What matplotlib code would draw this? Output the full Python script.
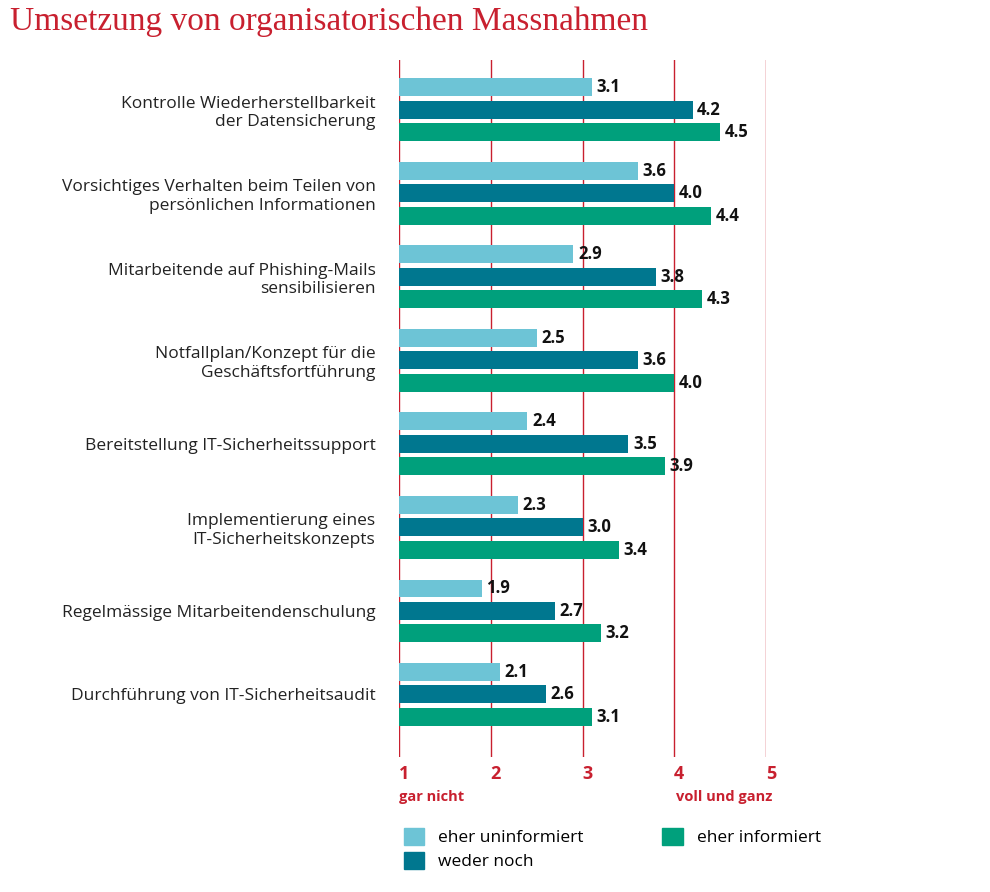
import matplotlib.pyplot as plt
import numpy as np
from matplotlib.patches import Patch

categories = [
    "Kontrolle Wiederherstellbarkeit\nder Datensicherung",
    "Vorsichtiges Verhalten beim Teilen von\npersönlichen Informationen",
    "Mitarbeitende auf Phishing-Mails\nsensibilisieren",
    "Notfallplan/Konzept für die\nGeschäftsfortführung",
    "Bereitstellung IT-Sicherheitssupport",
    "Implementierung eines\nIT-Sicherheitskonzepts",
    "Regelmässige Mitarbeitendenschulung",
    "Durchführung von IT-Sicherheitsaudit",
]
uninformiert = [3.1, 3.6, 2.9, 2.5, 2.4, 2.3, 1.9, 2.1]
weder_noch = [4.2, 4.0, 3.8, 3.6, 3.5, 3.0, 2.7, 2.6]
informiert = [4.5, 4.4, 4.3, 4.0, 3.9, 3.4, 3.2, 3.1]
series_names = ["eher uninformiert", "weder noch", "eher informiert"]
colors = ["#6dc4d6", "#00778f", "#00a07c"]
RED = "#c8202f"

plt.rcParams["font.family"] = ["Open Sans", "DejaVu Sans"]
fig = plt.figure(figsize=(9.9, 8.92), dpi=100)
ax = fig.add_axes([399 / 990, 1 - 757 / 892, (766 - 399) / 990, 697 / 892])

y = np.arange(len(categories))
off = 0.268
h = 0.214
for k, vals in enumerate([uninformiert, weder_noch, informiert]):
    yy = y + (k - 1) * off
    ax.barh(yy, np.array(vals) - 1, left=1, height=h, color=colors[k], zorder=2)
    for yi, v in zip(yy, vals):
        ax.text(v + 0.05, yi, f"{v:.1f}", va="center", ha="left",
                fontsize=12, fontweight="bold", color="#111111", zorder=3)

for xv in range(1, 6):
    ax.axvline(xv, color=RED, lw=1, zorder=1)

ax.set_xlim(1, 5)
ax.set_ylim(7.75, -0.595)
ax.set_yticks(y)
ax.set_yticklabels(categories, fontsize=12.5, color="#222222", ha="right")
ax.tick_params(axis="y", length=0, pad=17)
ax.set_xticks(range(1, 6))
ax.set_xticklabels([str(i) for i in range(1, 6)], fontsize=13, fontweight="bold", color=RED)
ax.tick_params(axis="x", length=0, pad=6)
for lab in ax.get_xticklabels():
    lab.set_ha("left")
ax.spines[["top", "left", "right", "bottom"]].set_visible(False)

fig.text(399 / 990, 1 - 797 / 892, "gar nicht", fontsize=10.5, fontweight="bold", color=RED, va="center")
fig.text(676 / 990, 1 - 797 / 892, "voll und ganz", fontsize=10.5, fontweight="bold", color=RED, va="center")

fig.text(10 / 990, 1 - 22 / 892, "Umsetzung von organisatorischen Massnahmen",
         fontsize=24, color=RED, va="center", family=["Liberation Serif", "DejaVu Serif"])

handles = [Patch(color=c) for c in colors]
fig.legend([handles[0], handles[1], handles[2]], series_names, ncol=2,
           loc="upper left", bbox_to_anchor=(388 / 990, 1 - 812 / 892),
           frameon=False, fontsize=12.5, handlelength=1.2, handleheight=1.2,
           columnspacing=4.5, labelspacing=0.3, handletextpad=0.8)

fig.savefig("out.png", dpi=100)
